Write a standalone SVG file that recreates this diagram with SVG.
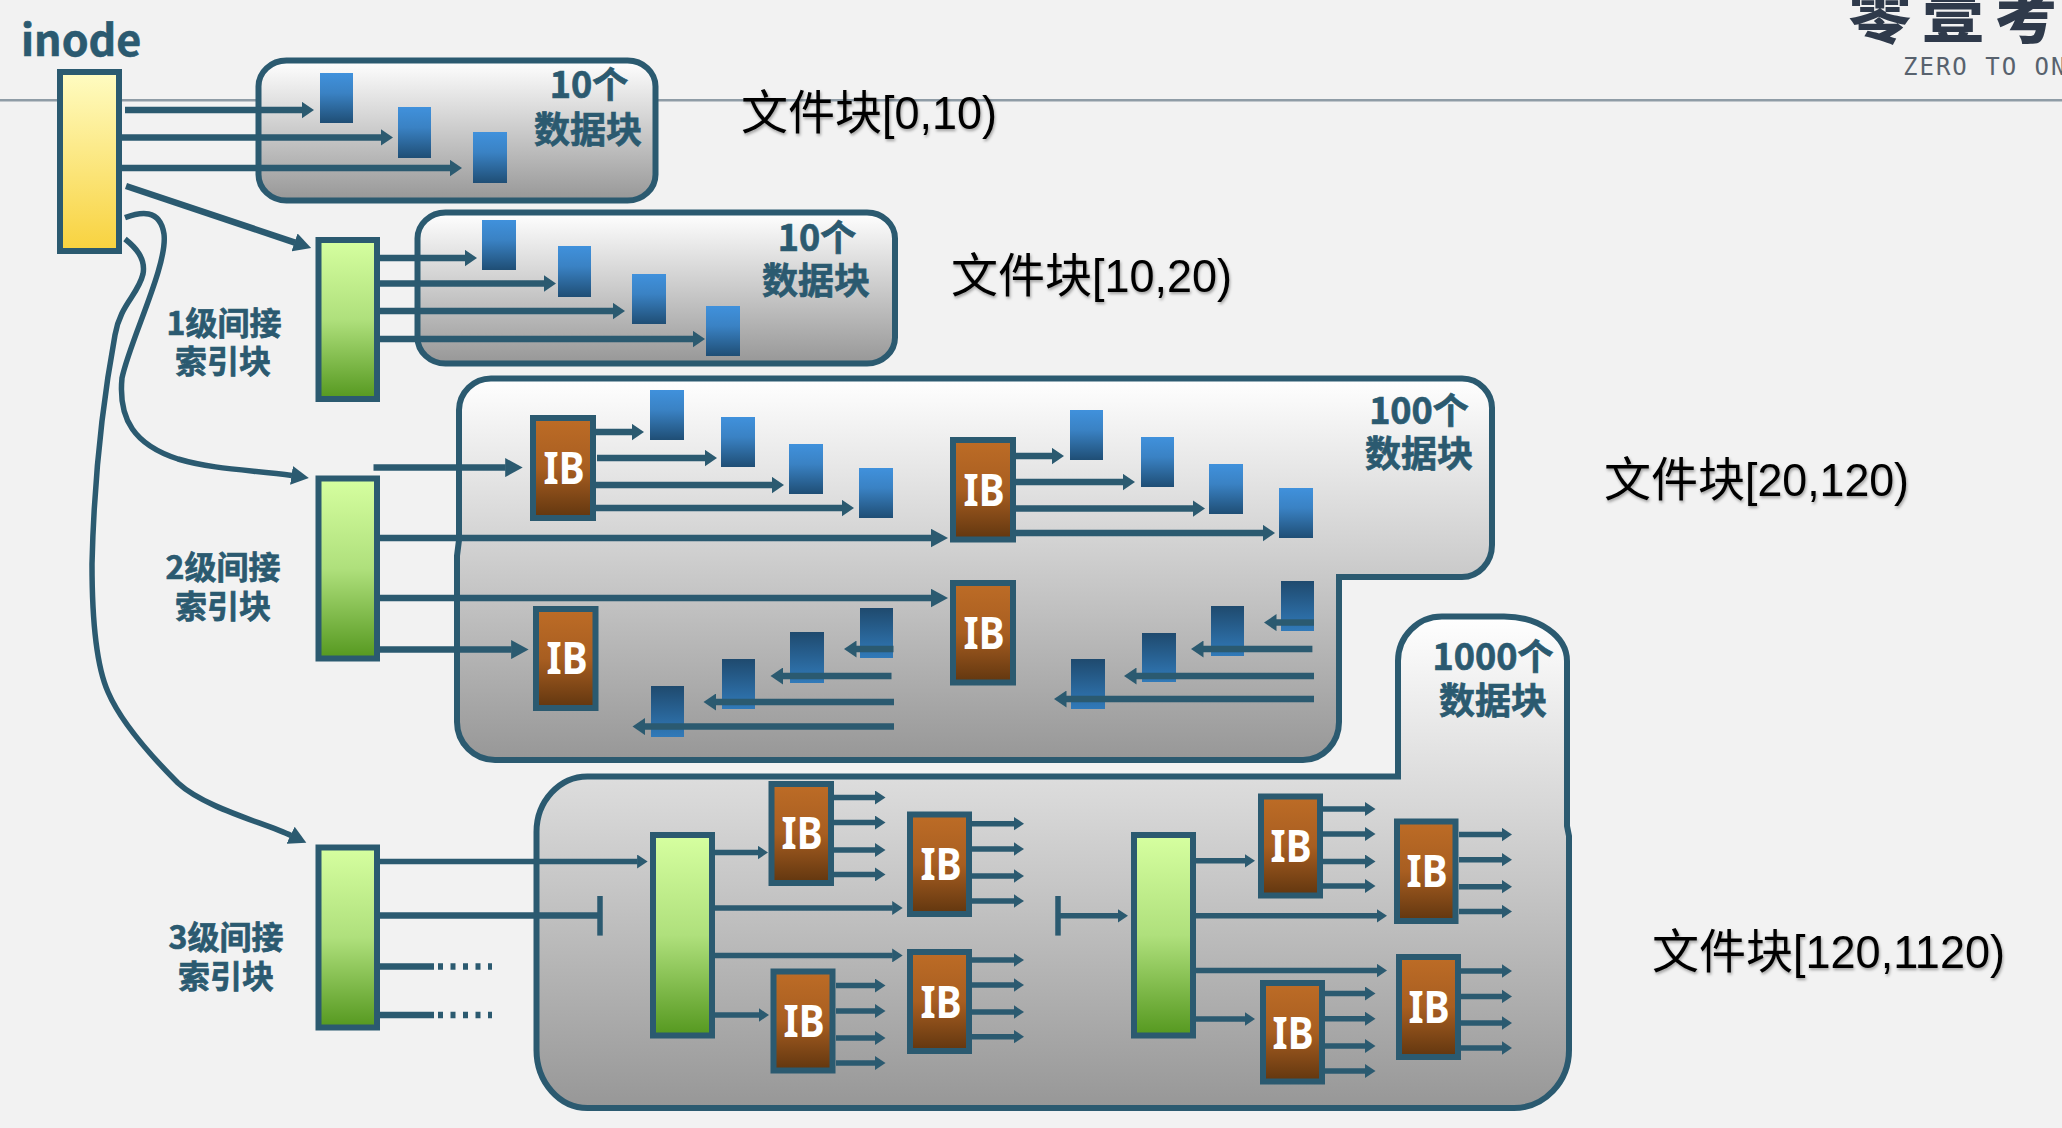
<svg xmlns="http://www.w3.org/2000/svg" width="2062" height="1128" viewBox="0 0 2062 1128">
<style>
.c{stroke:#2b5a70;stroke-width:6.5;fill:none}
.m{marker-end:url(#hm)}
.l{marker-end:url(#hl)}
.s{stroke-width:5.5;marker-end:url(#hs)}
.cv{stroke-width:5.5}
.ib{fill:url(#gi);stroke:#2b5a70;stroke-width:6}
.gr{fill:url(#gg);stroke:#2b5a70;stroke-width:6}
.panel{fill:url(#gp);stroke:#2b5a70;stroke-width:6}
.bk{fill:url(#gb)}
.bd{fill:url(#gd)}
.ibt{font-family:"Noto Sans","Liberation Sans",sans-serif;font-weight:700;font-size:44px;fill:#fff;text-anchor:middle}
.lb{font-family:"Noto Sans CJK SC","Noto Sans",sans-serif;font-weight:700;fill:#2b5a70;stroke:#2b5a70;stroke-width:.7;text-anchor:middle}
.f36{font-size:36px}
.f31{font-size:32px}
.fb{font-family:"Noto Sans CJK SC",sans-serif;font-size:47px;fill:#000;filter:url(#sh)}
.fb tspan{font-family:"Liberation Sans","Noto Sans CJK SC",sans-serif}
</style>
<defs>
<linearGradient id="gp" x1="0" y1="0" x2="0" y2="1"><stop offset="0" stop-color="#fff"/><stop offset="1" stop-color="#979797"/></linearGradient>
<linearGradient id="gy" x1="0" y1="0" x2="0" y2="1"><stop offset="0" stop-color="#fffcc2"/><stop offset="1" stop-color="#f8d23e"/></linearGradient>
<linearGradient id="gg" x1="0" y1="0" x2="0" y2="1"><stop offset="0" stop-color="#d6ffa0"/><stop offset=".5" stop-color="#afe07c"/><stop offset="1" stop-color="#55981f"/></linearGradient>
<linearGradient id="gi" x1="0" y1="0" x2="0" y2="1"><stop offset="0" stop-color="#bd6c26"/><stop offset=".5" stop-color="#a85e21"/><stop offset="1" stop-color="#61360f"/></linearGradient>
<linearGradient id="gb" x1="0" y1="0" x2="0" y2="1"><stop offset="0" stop-color="#4091dc"/><stop offset=".4" stop-color="#3a82c4"/><stop offset="1" stop-color="#1f4e75"/></linearGradient>
<linearGradient id="gd" x1="0" y1="0" x2="0" y2="1"><stop offset="0" stop-color="#1f4a6e"/><stop offset="1" stop-color="#317ab9"/></linearGradient>
<marker id="hm" markerUnits="userSpaceOnUse" markerWidth="13" markerHeight="17" refX="0.5" refY="8.5" orient="auto"><path d="M0 0L12.5 8.5L0 17Z" fill="#2b5a70"/></marker>
<marker id="hl" markerUnits="userSpaceOnUse" markerWidth="18" markerHeight="19" refX="0.5" refY="9.5" orient="auto"><path d="M0 0L17.5 9.5L0 19Z" fill="#2b5a70"/></marker>
<marker id="hs" markerUnits="userSpaceOnUse" markerWidth="11" markerHeight="14" refX="0.5" refY="7" orient="auto"><path d="M0 0L10.5 7L0 14Z" fill="#2b5a70"/></marker>
<filter id="sh" x="-5%" y="-10%" width="110%" height="130%"><feDropShadow dx="1" dy="2" stdDeviation="1.5" flood-color="#000" flood-opacity=".35"/></filter>
</defs>
<rect width="2062" height="1128" fill="#f2f2f2"/>
<rect x="0" y="99" width="2062" height="2.5" fill="#8f9ca6"/>

<g id="logo">
<text x="1849" y="38" font-family="Noto Sans CJK SC,sans-serif" font-weight="900" font-size="62" letter-spacing="11" fill="#2f3a4b">零壹考</text>
<text x="1903" y="75" font-family="DejaVu Sans Mono,monospace" font-weight="400" font-size="24" letter-spacing="2" fill="#58626e">ZERO TO ON</text>
</g>

<g id="panel-1">
<rect class="panel" x="258.5" y="60.5" width="397" height="140" rx="28" ry="26"/>
<rect class="bk" x="320" y="73" width="33" height="50"/><rect class="bk" x="398" y="107" width="33" height="51"/><rect class="bk" x="473" y="132" width="34" height="51"/>
<text class="lb f36" x="589" y="98">10个</text><text class="lb f36" x="588" y="143">数据块</text>
</g>
<g id="panel-2">
<rect class="panel" x="417.5" y="212.5" width="477.5" height="151" rx="28" ry="26"/>
<rect class="bk" x="482" y="220" width="34" height="50"/><rect class="bk" x="558" y="246" width="33" height="51"/><rect class="bk" x="632" y="274" width="34" height="50"/><rect class="bk" x="706" y="306" width="34" height="50"/>
<text class="lb f36" x="817" y="251">10个</text><text class="lb f36" x="816" y="294">数据块</text>
</g>
<g id="panel-3">
<path class="panel" d="M459 410A32 32 0 0 1 491 378.5L1462 378.5A30 30 0 0 1 1492 410L1492 545A30 32 0 0 1 1462 577L1339 577L1339 722A36 38 0 0 1 1303 760L495 760A38 38 0 0 1 457 722L457 556L459 540Z"/>
<rect class="bk" x="650" y="390" width="34" height="50"/><rect class="bk" x="721" y="417" width="34" height="50"/><rect class="bk" x="789" y="444" width="34" height="50"/><rect class="bk" x="859" y="468" width="34" height="50"/>
<rect class="bk" x="1070" y="410" width="33" height="50"/><rect class="bk" x="1141" y="437" width="33" height="50"/><rect class="bk" x="1209" y="464" width="34" height="50"/><rect class="bk" x="1279" y="488" width="34" height="50"/>
<rect class="bd" x="860" y="608" width="33" height="50"/><rect class="bd" x="790" y="632" width="34" height="51"/><rect class="bd" x="722" y="659" width="33" height="50"/><rect class="bd" x="651" y="686" width="33" height="51"/>
<rect class="bd" x="1281" y="581" width="33" height="50"/><rect class="bd" x="1211" y="606" width="33" height="50"/><rect class="bd" x="1142" y="633" width="34" height="49"/><rect class="bd" x="1071" y="659" width="34" height="50"/>
<text class="lb f36" x="1419" y="424">100个</text><text class="lb f36" x="1419" y="467">数据块</text>
</g>
<g id="panel-4">
<path class="panel" d="M536.5 832A51 55.5 0 0 1 588 776.5L1398 776.5L1398 661A44 44.5 0 0 1 1442 616.5L1504 616.5A63 44.5 0 0 1 1567 661L1567 826L1569 836L1569 1050A55 58 0 0 1 1514 1108L588 1108A51 58 0 0 1 536.5 1050Z"/>
<text class="lb f36" x="1493" y="670">1000个</text><text class="lb f36" x="1493" y="714">数据块</text>
</g>

<g id="inode">
<text x="21" y="56" font-family="Noto Sans CJK SC,Noto Sans,sans-serif" font-weight="700" font-size="43" fill="#2b5a70" stroke="#2b5a70" stroke-width=".6">inode</text>
<rect x="60" y="72" width="59" height="179" fill="url(#gy)" stroke="#2b5a70" stroke-width="6"/>
</g>
<g id="index-1"><rect class="gr" x="318.5" y="240" width="58.5" height="159"/><text class="lb f31" x="224" y="335">1级间接</text><text class="lb f31" x="223" y="373">索引块</text></g>
<g id="index-2"><rect class="gr" x="318.5" y="478.5" width="58.5" height="180"/><text class="lb f31" x="223" y="579">2级间接</text><text class="lb f31" x="223" y="618">索引块</text></g>
<g id="index-3"><rect class="gr" x="318.5" y="847.5" width="58.5" height="180"/><text class="lb f31" x="226" y="949">3级间接</text><text class="lb f31" x="226" y="988">索引块</text></g>
<g id="index-4"><rect class="gr" x="653" y="835" width="59" height="200.5"/></g>
<g id="index-5"><rect class="gr" x="1134" y="835" width="59" height="200.5"/></g>

<g id="ib-1"><rect class="ib" x="533" y="418" width="60" height="100"/><text class="ibt" x="564" y="484" textLength="41" lengthAdjust="spacingAndGlyphs">IB</text></g>
<g id="ib-2"><rect class="ib" x="953" y="440" width="60" height="99.5"/><text class="ibt" x="984" y="506" textLength="41" lengthAdjust="spacingAndGlyphs">IB</text></g>
<g id="ib-3"><rect class="ib" x="536" y="609" width="59.5" height="99"/><text class="ibt" x="567" y="674" textLength="41" lengthAdjust="spacingAndGlyphs">IB</text></g>
<g id="ib-4"><rect class="ib" x="953" y="583" width="60" height="99.5"/><text class="ibt" x="984" y="649" textLength="41" lengthAdjust="spacingAndGlyphs">IB</text></g>
<g id="ib-a"><rect class="ib" x="771.5" y="784" width="59.5" height="99"/><text class="ibt" x="802" y="849" textLength="41" lengthAdjust="spacingAndGlyphs">IB</text></g>
<g id="ib-b"><rect class="ib" x="910" y="814.5" width="59" height="99.5"/><text class="ibt" x="941" y="880" textLength="41" lengthAdjust="spacingAndGlyphs">IB</text></g>
<g id="ib-c"><rect class="ib" x="773.5" y="971.5" width="59" height="99"/><text class="ibt" x="804" y="1037" textLength="41" lengthAdjust="spacingAndGlyphs">IB</text></g>
<g id="ib-d"><rect class="ib" x="910" y="952" width="59" height="99"/><text class="ibt" x="941" y="1018" textLength="41" lengthAdjust="spacingAndGlyphs">IB</text></g>
<g id="ib-e"><rect class="ib" x="1261" y="796.5" width="59" height="99"/><text class="ibt" x="1291" y="862" textLength="41" lengthAdjust="spacingAndGlyphs">IB</text></g>
<g id="ib-f"><rect class="ib" x="1397" y="821.5" width="58.5" height="99.5"/><text class="ibt" x="1427" y="887" textLength="41" lengthAdjust="spacingAndGlyphs">IB</text></g>
<g id="ib-g"><rect class="ib" x="1263" y="983" width="59" height="98.5"/><text class="ibt" x="1293" y="1049" textLength="41" lengthAdjust="spacingAndGlyphs">IB</text></g>
<g id="ib-h"><rect class="ib" x="1399" y="957" width="59" height="100"/><text class="ibt" x="1429" y="1023" textLength="41" lengthAdjust="spacingAndGlyphs">IB</text></g>

<g id="connectors">
<path class="c m" d="M125 110H302"/><path class="c m" d="M122 137.4H381"/><path class="c m" d="M122 168H450"/>
<path class="c l" d="M126 186L295 242.6"/>
<path class="c l cv" d="M125 217.6C140 212 160 208 164 234C168 265 130 340 122 378C118 420 135 445 178 459C215 470 255 470 292 475.5"/>
<path class="c l cv" d="M125 239C135 247 146 258 143 274C138 295 120 305 115 335C103 400 94 480 92 564C92 620 96 665 108 692C120 720 150 755 178 783C205 808 265 823 291 835.5"/>
<path class="c m" d="M380 258H465"/><path class="c m" d="M380 283.5H544"/><path class="c m" d="M380 311H613"/><path class="c m" d="M380 339H693"/>
<path class="c l" d="M373.5 467.6H505.7"/>
<path class="c m" d="M596 432H632"/><path class="c m" d="M597 458H705"/><path class="c m" d="M596 485H772"/><path class="c m" d="M596 508H842"/>
<path class="c l" d="M380 538H931"/><path class="c l" d="M380 598H931"/><path class="c l" d="M380 649.6H511.6"/>
<path class="c m" d="M1016 456H1052"/><path class="c m" d="M1016 482H1123"/><path class="c m" d="M1016 508.6H1193"/><path class="c m" d="M1016 533H1263"/>
<path class="c m" d="M893.5 649H856"/><path class="c m" d="M891.5 676H782.5"/><path class="c m" d="M894 702H715.5"/><path class="c m" d="M894 726.6H644.5"/>
<path class="c m" d="M1314 622.6H1276"/><path class="c m" d="M1312.4 649H1203"/><path class="c m" d="M1314 676H1136"/><path class="c m" d="M1314 699H1066"/>
<path class="c s" d="M380 861.5H637.6"/>
<path class="c" d="M380 915.4H600"/><path class="c cv" d="M600 896V935.6"/>
<path class="c" d="M380 966.5H434M380 1015H434"/>
<path class="c" stroke-dasharray="5 7.5" style="stroke-dasharray:5 7.5" d="M438 966.5H492M438 1015H492"/>
<path class="c s" d="M715 852.5H758"/><path class="c s" d="M715 908H892.7"/><path class="c s" d="M715 955.4H892.7"/><path class="c s" d="M715 1015H759"/>
<path class="c s" d="M834 797.5H875.5"/><path class="c s" d="M834 822.6H875.5"/><path class="c s" d="M834 850H875.5"/><path class="c s" d="M834 874.4H875.5"/>
<path class="c s" d="M972 823.7H1014"/><path class="c s" d="M972 849H1014"/><path class="c s" d="M972 876H1014"/><path class="c s" d="M972 901H1014"/>
<path class="c s" d="M836 985.6H875.5"/><path class="c s" d="M836 1011H875.5"/><path class="c s" d="M836 1038H875.5"/><path class="c s" d="M836 1063H875.5"/>
<path class="c s" d="M972 960H1014"/><path class="c s" d="M972 985H1014"/><path class="c s" d="M972 1012H1014"/><path class="c s" d="M972 1036.7H1014"/>
<path class="c cv" d="M1058 896V935.6"/>
<path class="c s" d="M1058 915.8H1118"/>
<path class="c s" d="M1196 860.8H1245"/><path class="c s" d="M1196 915.8H1377"/><path class="c s" d="M1196 970.5H1377"/><path class="c s" d="M1196 1019H1245"/>
<path class="c s" d="M1323 809H1365.5"/><path class="c s" d="M1323 834H1365.5"/><path class="c s" d="M1323 861.5H1365.5"/><path class="c s" d="M1323 886H1365.5"/>
<path class="c s" d="M1459 834.5H1502"/><path class="c s" d="M1459 859.7H1502"/><path class="c s" d="M1459 886.7H1502"/><path class="c s" d="M1459 911.5H1502"/>
<path class="c s" d="M1325 993.5H1365.5"/><path class="c s" d="M1325 1018.7H1365.5"/><path class="c s" d="M1325 1046H1365.5"/><path class="c s" d="M1325 1071H1365.5"/>
<path class="c s" d="M1461 971H1502"/><path class="c s" d="M1461 996.4H1502"/><path class="c s" d="M1461 1023H1502"/><path class="c s" d="M1461 1048H1502"/>
</g>

<g id="ranges">
<text class="fb" x="741" y="129">文件块<tspan textLength="115" lengthAdjust="spacingAndGlyphs">[0,10)</tspan></text>
<text class="fb" x="951" y="292">文件块<tspan textLength="140" lengthAdjust="spacingAndGlyphs">[10,20)</tspan></text>
<text class="fb" x="1604" y="496">文件块<tspan textLength="164" lengthAdjust="spacingAndGlyphs">[20,120)</tspan></text>
<text class="fb" x="1652" y="968">文件块<tspan textLength="212" lengthAdjust="spacingAndGlyphs">[120,1120)</tspan></text>
</g>
</svg>
